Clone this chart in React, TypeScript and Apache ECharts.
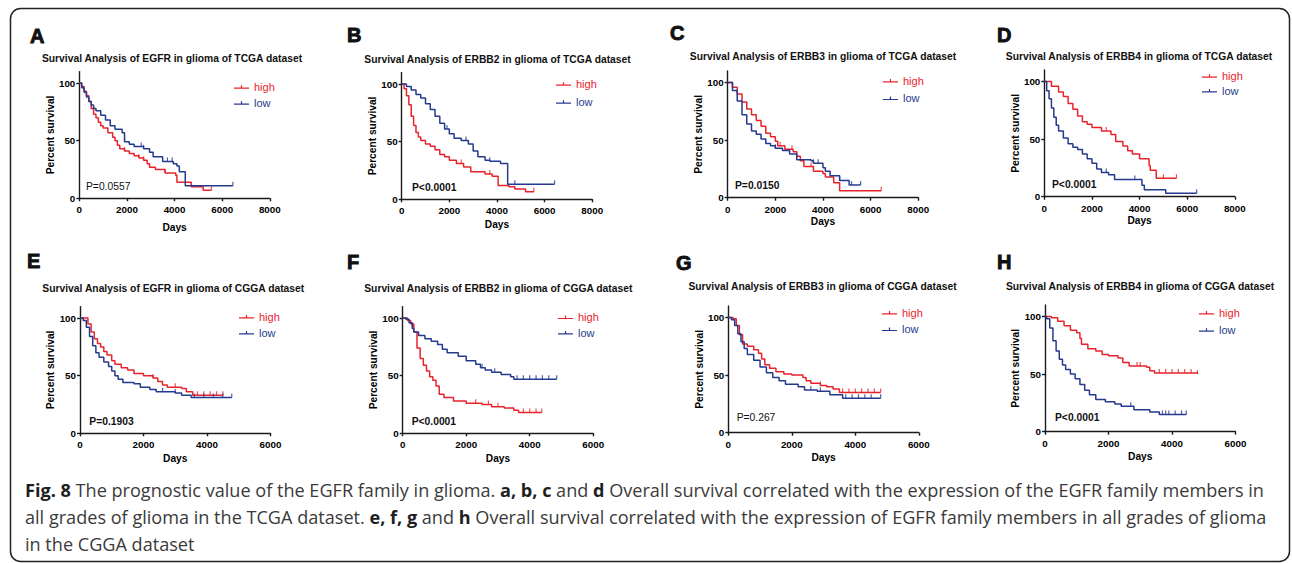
import React, { useEffect, useRef } from 'react';
import * as echarts from 'echarts';

type Pt = [number, number];

// ---------- DATA ----------
const letters = ['A', 'B', 'C', 'D', 'E', 'F', 'G', 'H'];
const genes = ['EGFR', 'ERBB2', 'ERBB3', 'ERBB4', 'EGFR', 'ERBB2', 'ERBB3', 'ERBB4'];
const datasets = ['TCGA', 'TCGA', 'TCGA', 'TCGA', 'CGGA', 'CGGA', 'CGGA', 'CGGA'];
const pValues = ['P=0.0557', 'P<0.0001', 'P=0.0150', 'P<0.0001', 'P=0.1903', 'P<0.0001', 'P=0.267', 'P<0.0001'];
const pBold = [false, true, true, true, true, true, false, true];
const xMaxDays = [8000, 8000, 8000, 8000, 6000, 6000, 6000, 6000];
const xTickStep = 2000;
const yTicks = [0, 50, 100];
const groupNames = ['high', 'low'];
const xAxisName = 'Days';
const yAxisName = 'Percent survival';

// Kaplan–Meier curves: [days, percent survival]
const aHigh: Pt[] = [[0,100],[100,97],[200,93],[300,89],[400,84],[500,78],[600,73],[700,70],[800,66],[900,63],[1000,61],[1200,57],[1400,53],[1500,50],[1600,46],[1700,43],[1900,41],[2100,39],[2300,37],[2500,35],[2700,33],[2850,30],[2950,27],[3200,25],[3600,22],[4050,20],[4100,14],[4700,10],[5200,7],[5550,7]];
const aLow: Pt[] = [[0,100],[100,96],[200,92],[300,88],[400,84],[500,81],[600,78],[700,76],[900,72],[1100,68],[1300,63],[1500,60],[1800,57],[1900,49],[2100,47],[2300,45],[2700,43],[2950,40],[3100,36],[3500,32],[3950,30],[4100,28],[4200,23],[4450,11],[6450,11]];
const bHigh: Pt[] = [[0,100],[100,96],[200,90],[300,82],[400,72],[500,64],[600,58],[700,54],[800,51],[1000,48],[1200,46],[1400,43],[1600,39],[1800,37],[2000,34],[2300,31],[2600,28],[2900,24],[3500,22],[3800,20],[4050,12],[4500,11],[4750,9],[5200,6.5],[5550,6.5]];
const bLow: Pt[] = [[0,100],[200,98],[400,95],[600,91],[800,88],[1000,83],[1200,78],[1400,72],[1600,66],[1800,61],[2000,57],[2200,53],[2500,51],[2800,48],[3000,42],[3200,37],[3500,34],[3700,33],[4150,31],[4450,13],[6420,13]];
const cHigh: Pt[] = [[0,100],[200,96],[400,90],[600,83],[800,77],[1000,72],[1200,67],[1400,62],[1600,56],[1800,53],[2000,49],[2100,45],[2400,42],[2750,40],[2900,36],[3050,32],[3200,27],[3600,23],[4000,21],[4100,18],[4450,13],[4700,6],[6450,6]];
const cLow: Pt[] = [[0,100],[200,93],[400,84],[600,72],[800,64],[1000,58],[1200,55],[1400,51],[1600,47],[1800,45],[2000,43],[2300,41],[2600,38],[2900,33],[3500,32],[3600,30],[4000,26],[4100,23],[4300,19],[4700,15],[5100,11],[5580,11]];
const dHigh: Pt[] = [[0,100],[300,96],[600,91],[800,87],[1000,81],[1200,76],[1400,70],[1600,65],[1800,63],[2000,60],[2400,57],[2800,54],[3000,48],[3300,44],[3500,40],[3700,37],[4000,33],[4400,27],[4450,23],[4700,16],[5550,16]];
const dLow: Pt[] = [[0,100],[100,92],[200,85],[300,77],[400,69],[500,62],[600,57],[800,51],[1000,46],[1200,43],[1400,41],[1600,37],[1800,33],[2000,29],[2200,24],[2400,21],[2700,19],[2950,15],[4000,15],[4100,10],[4200,6],[5100,3],[6400,3]];
const eHigh: Pt[] = [[0,100],[150,100],[250,95],[350,88],[450,82],[550,78],[650,75],[750,71],[850,68],[1000,63],[1100,60],[1300,57],[1500,55],[1700,52],[2000,50],[2300,48],[2450,45],[2600,42],[2750,40],[3200,39],[3350,36],[3550,33],[4500,33]];
const eLow: Pt[] = [[0,100],[100,98],[200,92],[300,84],[400,76],[500,70],[600,66],[750,62],[900,58],[1000,54],[1100,50],[1200,47],[1350,44],[1700,43],[1900,40],[2200,38],[2400,36],[3000,35],[3200,33],[3500,31],[4780,31]];
const fHigh: Pt[] = [[0,100],[150,98],[250,95],[350,88],[450,74],[550,65],[650,59],[750,54],[850,49],[950,46],[1050,41],[1150,34],[1300,31],[1600,28],[2000,26],[2500,25],[2800,23],[3200,22],[3500,20],[3650,18],[4380,18]];
const fLow: Pt[] = [[0,100],[100,99],[200,96],[300,91],[350,88],[500,85],[700,82],[900,80],[1100,77],[1250,73],[1400,70],[1750,67],[2000,63],[2300,60],[2450,57],[2600,55],[2800,53],[3100,51],[3400,49],[3500,47],[4850,47]];
const gHigh: Pt[] = [[0,100],[150,99],[250,93],[350,85],[450,77],[600,75],[800,72],[950,69],[1050,64],[1150,59],[1300,56],[1500,53],[1750,51],[2000,50],[2350,48],[2450,45],[2600,43],[2900,41],[3100,40],[3300,38],[3500,35],[4800,35]];
const gLow: Pt[] = [[0,100],[100,98],[200,93],[300,86],[400,79],[500,73],[600,68],[800,63],[1000,57],[1200,52],[1400,48],[1600,45],[1800,42],[2200,40],[2400,37],[2800,36],[3200,33],[3600,30],[4800,30]];
const hHigh: Pt[] = [[0,100],[200,99],[400,96],[600,92],[800,88],[1000,86],[1100,81],[1150,76],[1350,72],[1600,70],[1800,67],[2000,66],[2300,64],[2450,60],[2650,57],[3200,56],[3300,53],[3450,51],[4800,50]];
const hLow: Pt[] = [[0,100],[50,98],[150,90],[250,79],[350,70],[450,63],[550,58],[650,54],[800,50],[950,46],[1100,41],[1250,36],[1400,32],[1600,28],[1900,26],[2200,24],[2400,22],[2800,19],[3300,17],[3600,15],[4450,15]];

// censored observation times (days)
const aHighCens = [1900, 2500, 2700, 3600, 5550];
const aLowCens = [1900, 2600, 2700, 3700, 3900, 6450];
const bHighCens = [2500, 3700, 5550];
const bLowCens = [1900, 2700, 3700, 4750, 6420];
const cHighCens = [2200, 2700, 3500, 6450];
const cLowCens = [2000, 3600, 3800, 4700, 5200, 5580];
const dHighCens = [2600, 3700, 5000, 5550];
const dLowCens = [2600, 3800, 6400];
const eHighCens = [2300, 3000, 3700, 3900, 4100, 4300, 4500];
const eLowCens = [2600, 3000, 3600, 3900, 4200, 4500, 4780];
const fHighCens = [2300, 2700, 3000, 3800, 4000, 4200, 4380];
const fLowCens = [2500, 2900, 3600, 3800, 4000, 4200, 4400, 4600, 4850];
const gHighCens = [2900, 3600, 3800, 4000, 4200, 4400, 4600, 4800];
const gLowCens = [2600, 2900, 3700, 3900, 4100, 4300, 4500, 4800];
const hHighCens = [2900, 3000, 3600, 3800, 4000, 4200, 4400, 4600, 4800];
const hLowCens = [2700, 3700, 3800, 3900, 4100, 4300, 4450];

const captionLines = [
  '{b|Fig. 8} The prognostic value of the EGFR family in glioma. {b|a, b, c} and {b|d} Overall survival correlated with the expression of the EGFR family members in',
  'all grades of glioma in the TCGA dataset. {b|e, f, g} and {b|h} Overall survival correlated with the expression of EGFR family members in all grades of glioma',
  'in the CGGA dataset',
];

const curves: Pt[][][] = [
  [aHigh, aLow], [bHigh, bLow], [cHigh, cLow], [dHigh, dLow],
  [eHigh, eLow], [fHigh, fLow], [gHigh, gLow], [hHigh, hLow],
];
const censors: number[][][] = [
  [aHighCens, aLowCens], [bHighCens, bLowCens], [cHighCens, cLowCens], [dHighCens, dLowCens],
  [eHighCens, eLowCens], [fHighCens, fLowCens], [gHighCens, gLowCens], [hHighCens, hLowCens],
];

// ---------- LAYOUT / STYLE ----------
const RED = '#e8232b';
const BLUE = '#243a8e';
const AXIS = '#1a1a1a';
const FONT = '"Liberation Sans", Arial, Helvetica, sans-serif';
const CAP_FONT = '"Open Sans", "Noto Sans", sans-serif';
const GRID_W = 190.5;
const GRID_H = 126.7;
const gridLeft = [79.3, 401.7, 727.7, 1044.3, 80, 402.7, 728.3, 1045];
const gridTop = [71.6, 72.6, 71, 70, 306.6, 306.6, 306, 305];
const xNameGap = [24, 20, 19, 19, 20, 20, 19.5, 20];
const titlePos: Pt[] = [[172, 58], [497.5, 59], [823, 56.7], [1139, 56.7], [173.3, 288.3], [498.3, 288.3], [822.5, 286.7], [1140, 286]];
const letterPos: Pt[] = [[30, 36], [347, 35], [670, 33], [997, 35], [27, 261], [347, 262], [676, 263], [997, 262]];
const pPos: Pt[] = [[86, 186], [412, 187], [735, 185], [1052, 184], [89.3, 421.7], [411.7, 421.7], [736.7, 417.7], [1055, 417.7]];
const legendPos: [number, number, number][] = [
  [234, 81, 4], [556, 78, 6], [883, 74.7, 5.6], [1202, 70, 2.7],
  [239, 310.7, 4], [558, 311.3, 3.4], [882, 306.7, 4.6], [1199, 306.7, 5.3],
];
const LEG_ICON = 'path://M0,3.2h20v1.6h-20z M9.2,0h1.6v4.8h-1.6z';

function stepAt(curve: Pt[], t: number): number {
  let v = curve[0][1];
  for (const [x, y] of curve) {
    if (x <= t) v = y;
    else break;
  }
  return v;
}

function measureRich(line: string, size: number): number {
  const ctx = document.createElement('canvas').getContext('2d');
  if (!ctx) return line.length * size * 0.5;
  let w = 0;
  for (const part of line.split(/(\{b\|[^}]*\})/)) {
    if (!part) continue;
    const m = part.match(/^\{b\|([^}]*)\}$/);
    ctx.font = `${m ? 'bold ' : ''}${size}px ${CAP_FONT}`;
    w += ctx.measureText(m ? m[1] : part).width;
  }
  return w;
}

export default function App() {
  const ref = useRef<HTMLDivElement>(null);

  useEffect(() => {
    if (!ref.current) return;
    const chart = echarts.init(ref.current, undefined, { renderer: 'svg' });

    const grids: any[] = [];
    const xAxes: any[] = [];
    const yAxes: any[] = [];
    const series: any[] = [];
    const legends: any[] = [];
    const graphics: any[] = [];

    const axisLabel = {
      fontSize: 9.8, fontWeight: 'bold', color: '#000', fontFamily: FONT,
      formatter: (v: number) => String(v),
    };
    const nameStyle = { fontSize: 10.2, fontWeight: 'bold', color: '#000', fontFamily: FONT };
    const axisLine = { show: true, lineStyle: { color: AXIS, width: 1.4 } };
    const axisTick = { show: true, length: 3, lineStyle: { color: AXIS, width: 1.4 } };

    for (let i = 0; i < 8; i++) {
      grids.push({ left: gridLeft[i], top: gridTop[i], width: GRID_W, height: GRID_H, containLabel: false });
      xAxes.push({
        type: 'value', gridIndex: i, min: 0, max: xMaxDays[i], interval: xTickStep,
        axisLine, axisTick, splitLine: { show: false },
        axisLabel: { ...axisLabel, margin: 6.5 },
        name: xAxisName, nameLocation: 'middle', nameGap: xNameGap[i], nameTextStyle: nameStyle,
      });
      yAxes.push({
        type: 'value', gridIndex: i, min: 0, max: 110, interval: 50,
        axisLine, splitLine: { show: false },
        axisTick: { ...axisTick, customValues: yTicks },
        axisLabel: { ...axisLabel, margin: 4, customValues: yTicks },
        name: yAxisName, nameLocation: 'middle', nameGap: 24, nameTextStyle: nameStyle,
      });
      curves[i].forEach((curve, k) => {
        const color = k ? BLUE : RED;
        series.push({
          type: 'line', name: groupNames[k], xAxisIndex: i, yAxisIndex: i,
          data: curve, step: 'end', showSymbol: false, symbol: 'none', silent: true,
          lineStyle: { width: 1.5, color }, itemStyle: { color }, z: 2 + k,
        });
        series.push({
          type: 'scatter', name: groupNames[k] + ' censored', xAxisIndex: i, yAxisIndex: i,
          data: censors[i][k].map((t) => [t, stepAt(curve, t)]),
          symbol: 'rect', symbolSize: [1.2, 4], symbolOffset: [0, -2], silent: true,
          itemStyle: { color }, z: 4,
        });
      });
      const [ll, lt, lg] = legendPos[i];
      legends.push({
        left: ll, top: lt, orient: 'vertical', itemGap: lg, itemWidth: 15, itemHeight: 5,
        padding: 0, icon: LEG_ICON, selectedMode: false,
        textStyle: { fontSize: 11, lineHeight: 12, fontFamily: FONT },
        data: [
          { name: groupNames[0], textStyle: { color: RED } },
          { name: groupNames[1], textStyle: { color: BLUE } },
        ],
      });
      graphics.push({
        type: 'text', x: letterPos[i][0], y: letterPos[i][1], silent: true,
        style: {
          text: letters[i], fontSize: 20, fontWeight: 'bold', fontFamily: FONT,
          fill: '#111', stroke: '#111', lineWidth: 0.9, align: 'left', verticalAlign: 'middle',
        },
      });
      graphics.push({
        type: 'text', x: titlePos[i][0], y: titlePos[i][1], silent: true,
        style: {
          text: `Survival Analysis of ${genes[i]} in glioma of ${datasets[i]} dataset`,
          fontSize: 10.3, fontWeight: 'bold', fontFamily: FONT, fill: '#111',
          align: 'center', verticalAlign: 'middle',
        },
      });
      graphics.push({
        type: 'text', x: pPos[i][0], y: pPos[i][1], silent: true,
        style: {
          text: pValues[i], fontSize: 10.3, fontWeight: pBold[i] ? 'bold' : 'normal', fontFamily: FONT,
          fill: '#111', align: 'left', verticalAlign: 'middle',
        },
      });
    }

    // frame
    graphics.push({
      type: 'rect', silent: true, z: -1,
      shape: { x: 10.5, y: 8.5, width: 1279, height: 553, r: 10 },
      style: { fill: 'none', stroke: '#222', lineWidth: 1.5 },
    });

    // caption
    const capSize = Math.max(13, Math.min(20, (100 * 1240) / measureRich(captionLines[0], 100)));
    const capY = [490, 517, 544];
    captionLines.forEach((line, j) => {
      graphics.push({
        type: 'text', x: 25, y: capY[j], silent: true,
        style: {
          text: line, fontSize: capSize, fontFamily: CAP_FONT, fill: '#3a3a3a',
          align: 'left', verticalAlign: 'middle',
          rich: { b: { fontSize: capSize, fontFamily: CAP_FONT, fontWeight: 'bold', fill: '#1e1e1e' } },
        },
      });
    });

    chart.setOption({
      animation: false,
      backgroundColor: '#ffffff',
      grid: grids,
      xAxis: xAxes,
      yAxis: yAxes,
      legend: legends,
      series,
      graphic: { elements: graphics },
    });

    return () => chart.dispose();
  }, []);

  return (
    <div
      ref={ref}
      style={{ position: 'absolute', left: 0, top: 0, width: 1292, height: 563, background: '#fff' }}
    />
  );
}
